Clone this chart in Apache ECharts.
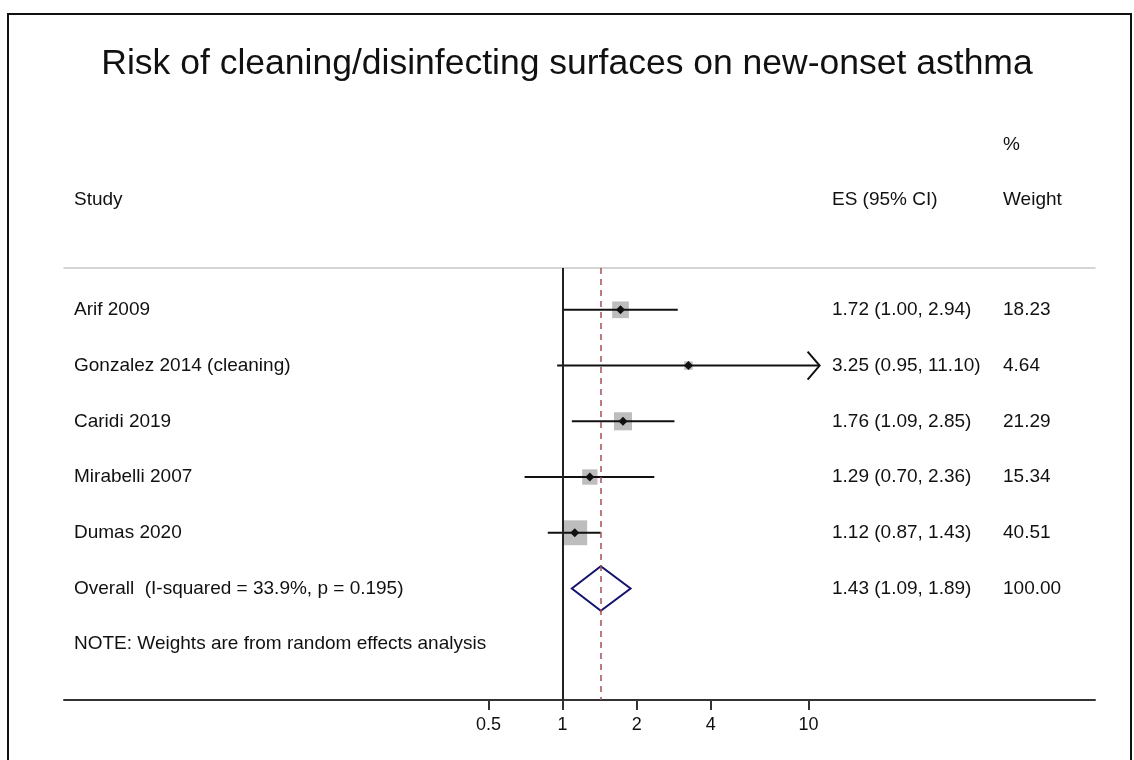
<!DOCTYPE html>
<html>
<head>
<meta charset="utf-8">
<script src="https://cdn.jsdelivr.net/npm/echarts@6/dist/echarts.min.js"></script>
<style>
  html, body { margin: 0; padding: 0; background: #fff; }
  #main { width: 1134px; height: 760px; }
</style>
</head>
<body>
<div id="main"></div>
<script>
// study rows
var studies = ['Arif 2009', 'Gonzalez 2014 (cleaning)', 'Caridi 2019', 'Mirabelli 2007', 'Dumas 2020'];
var es = [1.72, 3.25, 1.76, 1.29, 1.12];
var lower = [1.00, 0.95, 1.09, 0.70, 0.87];
var upper = [2.94, 11.10, 2.85, 2.36, 1.43];
var weights = [18.23, 4.64, 21.29, 15.34, 40.51];

// pooled estimate
var overallLabel = ['Overall  (I-squared = 33.9%, p = 0.195)'];
var overallEs = [1.43];
var overallLower = [1.09];
var overallUpper = [1.89];
var overallWeight = [100.00];

var noteText = ['NOTE: Weights are from random effects analysis'];
var tickValues = [0.5, 1, 2, 4, 10];

var FONT = '"Liberation Sans", Arial, Helvetica, sans-serif';
var TXT = '19px ' + FONT;

var labels = studies.concat(overallLabel, noteText);
var esText = es.map(function (v, i) {
    return v.toFixed(2) + ' (' + lower[i].toFixed(2) + ', ' + upper[i].toFixed(2) + ')';
}).concat([overallEs[0].toFixed(2) + ' (' + overallLower[0].toFixed(2) + ', ' + overallUpper[0].toFixed(2) + ')']);
var wText = weights.concat(overallWeight).map(function (v) { return v.toFixed(2); });

var chart = echarts.init(document.getElementById('main'));

function forestItem(params, api) {
    var row = api.value(4);
    var pEs = api.coord([api.value(0), row]);
    var pLo = api.coord([api.value(1), row]);
    var pHi = api.coord([api.value(2), row]);
    var side = 3.91 * Math.sqrt(api.value(3));
    var kids = [{
        type: 'rect',
        shape: { x: pEs[0] - side / 2, y: pEs[1] - side / 2, width: side, height: side },
        style: { fill: '#bdbdbd' }
    }, {
        type: 'line',
        shape: { x1: pLo[0], y1: pLo[1], x2: pHi[0], y2: pHi[1] },
        style: { stroke: '#111', lineWidth: 2 }
    }, {
        type: 'polygon',
        shape: { points: [[pEs[0] - 4.5, pEs[1]], [pEs[0], pEs[1] - 4.5], [pEs[0] + 4.5, pEs[1]], [pEs[0], pEs[1] + 4.5]] },
        style: { fill: '#111' }
    }];
    // CI running past the last tick gets an open arrow head
    if (api.value(2) > tickValues[tickValues.length - 1]) {
        kids.push({
            type: 'polyline',
            shape: { points: [[pHi[0] - 12, pHi[1] - 14], [pHi[0], pHi[1]], [pHi[0] - 12, pHi[1] + 14]] },
            style: { stroke: '#111', lineWidth: 2, fill: null }
        });
    }
    return { type: 'group', children: kids };
}

function diamondItem(params, api) {
    var row = api.value(3);
    var lo = api.coord([api.value(1), row]);
    var hi = api.coord([api.value(2), row]);
    var top = api.coord([api.value(0), row - 0.4]);
    var bot = api.coord([api.value(0), row + 0.4]);
    return {
        type: 'polygon',
        shape: { points: [[lo[0], lo[1]], [top[0], top[1]], [hi[0], hi[1]], [bot[0], bot[1]]] },
        style: { fill: null, stroke: '#14146e', lineWidth: 2 }
    };
}

function textItem(params, api) {
    var i = params.dataIndex;
    var y = api.coord([1, api.value(0)])[1];
    var kids = [{
        type: 'text', x: 74, y: y,
        style: { text: labels[i], fill: '#111', font: TXT, verticalAlign: 'middle', align: 'left' }
    }];
    if (esText[i]) {
        kids.push({
            type: 'text', x: 832, y: y,
            style: { text: esText[i], fill: '#111', font: TXT, verticalAlign: 'middle', align: 'left' }
        });
        kids.push({
            type: 'text', x: 1003, y: y,
            style: { text: wText[i], fill: '#111', font: TXT, verticalAlign: 'middle', align: 'left' }
        });
    }
    return { type: 'group', children: kids };
}

var xMin = 0.00937, xMax = 146.4;

chart.setOption({
    backgroundColor: '#fff',
    animation: false,
    title: {
        text: 'Risk of cleaning/disinfecting surfaces on new-onset asthma',
        left: 'center',
        top: 41,
        textStyle: { fontFamily: FONT, fontSize: 35.5, fontWeight: 'normal', color: '#111' }
    },
    graphic: [
        { type: 'rect', shape: { x: 8, y: 14, width: 1123, height: 780 }, style: { fill: null, stroke: '#111', lineWidth: 2 } },
        { type: 'text', x: 74, y: 200, style: { text: 'Study', font: TXT, fill: '#111', verticalAlign: 'middle' } },
        { type: 'text', x: 832, y: 200, style: { text: 'ES (95% CI)', font: TXT, fill: '#111', verticalAlign: 'middle' } },
        { type: 'text', x: 1003, y: 145, style: { text: '%', font: TXT, fill: '#111', verticalAlign: 'middle' } },
        { type: 'text', x: 1003, y: 200, style: { text: 'Weight', font: TXT, fill: '#111', verticalAlign: 'middle' } }
    ],
    grid: { left: 64, right: 39, top: 268, bottom: 60 },
    xAxis: [{
        type: 'log',
        logBase: 10,
        min: xMin,
        max: xMax,
        position: 'bottom',
        axisLine: { onZero: false, lineStyle: { color: '#333', width: 2 } },
        axisTick: { customValues: tickValues, length: 10, lineStyle: { color: '#333', width: 2 } },
        axisLabel: {
            customValues: tickValues, margin: 16, color: '#111', fontSize: 18, fontFamily: FONT,
            formatter: function (v) { return String(+v.toFixed(2)); }
        },
        splitLine: { show: false }
    }, {
        type: 'log',
        logBase: 10,
        min: xMin,
        max: xMax,
        position: 'top',
        axisLine: { onZero: false, lineStyle: { color: '#c8c8c8', width: 1.5 } },
        axisTick: { show: false },
        axisLabel: { show: false },
        splitLine: { show: false }
    }],
    yAxis: {
        type: 'value',
        inverse: true,
        min: -0.75,
        max: 7,
        show: false
    },
    series: [{
        type: 'custom',
        name: 'ref',
        data: [],
        renderItem: function () { return null; },
        markLine: {
            silent: true,
            symbol: 'none',
            label: { show: false },
            data: [
                { xAxis: 1, lineStyle: { color: '#222', width: 2, type: 'solid' } },
                { xAxis: overallEs[0], lineStyle: { color: '#a84f55', width: 1.5, type: [6, 5] } }
            ]
        }
    }, {
        type: 'custom',
        name: 'studies',
        renderItem: forestItem,
        encode: { x: [0, 1, 2], y: 4 },
        data: studies.map(function (s, i) { return [es[i], lower[i], upper[i], weights[i], i]; }),
        z: 3
    }, {
        type: 'custom',
        name: 'overall',
        renderItem: diamondItem,
        encode: { x: [0, 1, 2], y: 3 },
        data: [[overallEs[0], overallLower[0], overallUpper[0], studies.length]],
        z: 3
    }, {
        type: 'custom',
        name: 'text',
        renderItem: textItem,
        encode: { y: 0 },
        data: labels.map(function (s, i) { return [i]; }),
        z: 4
    }]
});
</script>
</body>
</html>
